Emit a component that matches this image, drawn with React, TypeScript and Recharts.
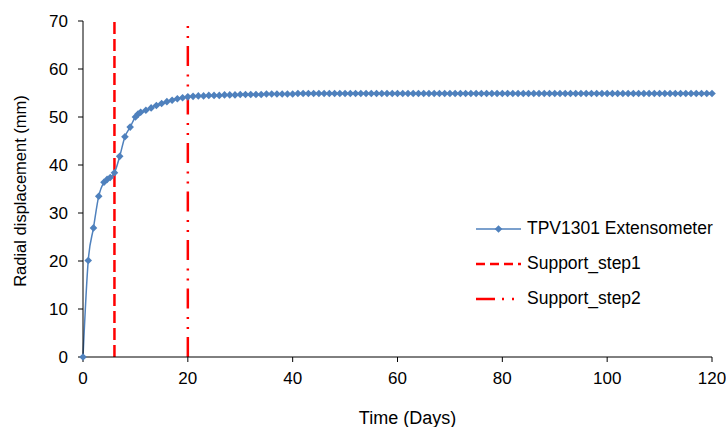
import { LineChart, Line, XAxis, YAxis, Legend } from 'recharts';

const days = [
  0, 1, 2, 3, 4, 4.6, 5.2, 6, 7, 8, 9, 10, 10.5, 11, 12, 13, 14, 15, 16, 17, 18, 19, 20,
  21, 22, 23, 24, 25, 26, 27, 28, 29, 30, 31, 32, 33, 34, 35, 36, 37, 38, 39, 40,
  41, 42, 43, 44, 45, 46, 47, 48, 49, 50, 51, 52, 53, 54, 55, 56, 57, 58, 59, 60,
  61, 62, 63, 64, 65, 66, 67, 68, 69, 70, 71, 72, 73, 74, 75, 76, 77, 78, 79, 80,
  81, 82, 83, 84, 85, 86, 87, 88, 89, 90, 91, 92, 93, 94, 95, 96, 97, 98, 99, 100,
  101, 102, 103, 104, 105, 106, 107, 108, 109, 110, 111, 112, 113, 114, 115, 116, 117, 118, 119, 120,
];

const displacement = [
  0, 20.1, 26.9, 33.5, 36.4, 37.0, 37.4, 38.4, 41.8, 45.9, 47.9, 50.0, 50.6, 51.0, 51.4, 51.9, 52.4, 52.8, 53.2, 53.5, 53.8, 54.0, 54.2,
  54.3, 54.4, 54.4, 54.5, 54.5, 54.5, 54.6, 54.6, 54.6, 54.7, 54.7, 54.7, 54.7, 54.7, 54.8, 54.8, 54.8, 54.8, 54.8, 54.8,
  54.9, 54.9, 54.9, 54.9, 54.9, 54.9, 54.9, 54.9, 54.9, 54.9, 54.9, 54.9, 54.9, 54.9, 54.9, 54.9, 54.9, 54.9, 54.9, 54.9,
  54.9, 54.9, 54.9, 54.9, 54.9, 54.9, 54.9, 54.9, 54.9, 54.9, 54.9, 54.9, 54.9, 54.9, 54.9, 54.9, 54.9, 54.9, 54.9, 54.9,
  54.9, 54.9, 54.9, 54.9, 54.9, 54.9, 54.9, 54.9, 54.9, 54.9, 54.9, 54.9, 54.9, 54.9, 54.9, 54.9, 54.9, 54.9, 54.9, 54.9,
  54.9, 54.9, 54.9, 54.9, 54.9, 54.9, 54.9, 54.9, 54.9, 54.9, 54.9, 54.9, 54.9, 54.9, 54.9, 54.9, 54.9, 54.9, 54.9, 54.9,
];

const step1Day = 6;
const step2Day = 20;
const yRange = [0, 70];

const xTicks = [0, 20, 40, 60, 80, 100, 120];
const yTicks = [0, 10, 20, 30, 40, 50, 60, 70];

const BLUE = '#4F81BD';
const RED = '#FF0000';
const FONT = '"Liberation Sans", Arial, sans-serif';

const seriesData = days.map((d, i) => ({ x: d, y: displacement[i] }));
const step1Data = yRange.map((v) => ({ x: step1Day, y: v }));
const step2Data = yRange.map((v) => ({ x: step2Day, y: v }));

const Diamond = (props: any) => {
  const { cx, cy, index } = props;
  if (cx == null || cy == null) return <g key={`n-${index}`} />;
  const r = 3.8;
  return (
    <path
      key={`d-${index}`}
      d={`M${cx},${cy - r}L${cx + r},${cy}L${cx},${cy + r}L${cx - r},${cy}Z`}
      fill={BLUE}
    />
  );
};

const legendItems = [
  { name: 'TPV1301 Extensometer', color: BLUE, dash: undefined, width: 1.5, marker: true },
  { name: 'Support_step1', color: RED, dash: '9 5', width: 2.5, marker: false },
  { name: 'Support_step2', color: RED, dash: '19 7 2 8 2 8', width: 2.5, marker: false },
];

const renderLegend = () => (
  <div style={{ fontFamily: FONT, fontSize: 17.5, color: '#000' }}>
    {legendItems.map((item) => (
      <div key={item.name} style={{ display: 'flex', alignItems: 'center', height: 35 }}>
        <svg width={50} height={12} style={{ marginRight: 1 }}>
          <line
            x1={0}
            y1={6}
            x2={45}
            y2={6}
            stroke={item.color}
            strokeWidth={item.width}
            strokeDasharray={item.dash}
          />
          {item.marker && <path d="M22.5,2.2L26.3,6L22.5,9.8L18.7,6Z" fill={BLUE} />}
        </svg>
        <span>{item.name}</span>
      </div>
    ))}
  </div>
);

export default function App() {
  return (
    <div style={{ position: 'absolute', left: 0, top: 0, background: '#fff' }}>
      <LineChart width={726} height={427} margin={{ top: 21, right: 14, bottom: 0, left: 0 }}>
        <XAxis
          type="number"
          dataKey="x"
          domain={[0, 120]}
          ticks={xTicks}
          allowDuplicatedCategory={false}
          height={70}
          stroke="#000"
          tickSize={5}
          tickMargin={10}
          tick={{ fill: '#000', fontSize: 17, fontFamily: FONT }}
          label={{
            value: 'Time (Days)',
            position: 'insideBottom',
            offset: 3,
            dx: 10,
            style: { fill: '#000', fontSize: 18, fontFamily: FONT },
          }}
        />
        <YAxis
          type="number"
          dataKey="y"
          domain={[0, 70]}
          ticks={yTicks}
          width={83}
          stroke="#000"
          tickSize={5}
          tickMargin={10}
          tick={{ fill: '#000', fontSize: 17, fontFamily: FONT }}
          label={{
            value: 'Radial displacement (mm)',
            angle: -90,
            position: 'center',
            dx: -21,
            dy: 2,
            style: { fill: '#000', fontSize: 16.5, fontFamily: FONT, textAnchor: 'middle' },
          }}
        />
        <Legend
          layout="vertical"
          align="center"
          verticalAlign="middle"
          content={renderLegend}
          wrapperStyle={{ position: 'absolute', left: 476, top: 211, width: 250 }}
        />
        <Line
          data={step1Data}
          dataKey="y"
          name="Support_step1"
          stroke={RED}
          strokeWidth={2.5}
          strokeDasharray="12 5"
          dot={false}
          isAnimationActive={false}
        />
        <Line
          data={step2Data}
          dataKey="y"
          name="Support_step2"
          stroke={RED}
          strokeWidth={2.5}
          strokeDasharray="20 8 2 8 2 8.5"
          dot={false}
          isAnimationActive={false}
        />
        <Line
          data={seriesData}
          dataKey="y"
          name="TPV1301 Extensometer"
          type="monotone"
          stroke={BLUE}
          strokeWidth={1.5}
          dot={Diamond}
          activeDot={false}
          isAnimationActive={false}
        />
      </LineChart>
    </div>
  );
}
